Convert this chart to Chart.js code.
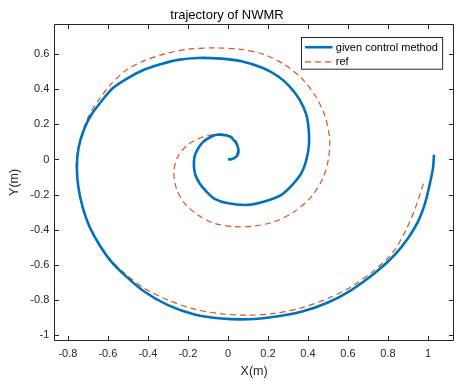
<!DOCTYPE html>
<html><head><meta charset="utf-8">
<script src="https://cdn.jsdelivr.net/npm/chart.js@4/dist/chart.umd.min.js"></script>
<style>html,body{margin:0;padding:0;background:#fff}canvas{display:block}</style>
</head><body>
<canvas id="c" width="457" height="381"></canvas>
<script>
const chartTitle = 'trajectory of NWMR';
const xLabel = 'X(m)';
const yLabel = 'Y(m)';
const seriesNames = ['given control method', 'ref'];
const xTicks = [-0.8, -0.6, -0.4, -0.2, 0, 0.2, 0.4, 0.6, 0.8, 1];
const yTicks = [-1, -0.8, -0.6, -0.4, -0.2, 0, 0.2, 0.4, 0.6];
const xRange = [-0.868, 1.13];
const yRange = [-1.03, 0.77];

const actualX = [0, 0.025, 0.047, 0.053, 0.047, 0.033, 0.008, -0.025, -0.058, -0.092, -0.125, -0.150, -0.167, -0.170, -0.163, -0.142, -0.108, -0.067, 0, 0.100, 0.183, 0.267, 0.325, 0.367, 0.392, 0.405, 0.403, 0.392, 0.358, 0.308, 0.250, 0.175, 0.067, -0.033, -0.150, -0.250, -0.333, -0.417, -0.500, -0.575, -0.633, -0.683, -0.720, -0.747, -0.755, -0.747, -0.725, -0.692, -0.642, -0.583, -0.508, -0.417, -0.300, -0.167, -0.033, 0.100, 0.233, 0.367, 0.500, 0.617, 0.733, 0.833, 0.900, 0.950, 0.983, 1.008, 1.025, 1.030];
const actualY = [0, 0.004, 0.023, 0.049, 0.080, 0.106, 0.131, 0.140, 0.140, 0.125, 0.099, 0.061, 0.017, -0.040, -0.087, -0.135, -0.182, -0.224, -0.249, -0.258, -0.239, -0.201, -0.140, -0.078, -0.002, 0.084, 0.178, 0.254, 0.340, 0.416, 0.473, 0.520, 0.558, 0.573, 0.577, 0.566, 0.543, 0.511, 0.463, 0.406, 0.330, 0.254, 0.169, 0.065, -0.049, -0.163, -0.277, -0.382, -0.486, -0.581, -0.666, -0.752, -0.828, -0.881, -0.904, -0.908, -0.894, -0.866, -0.813, -0.742, -0.647, -0.543, -0.448, -0.353, -0.258, -0.144, -0.049, 0.027];

const refX = [0.042, 0.050, 0.042, 0.017, -0.050, -0.133, -0.200, -0.250, -0.270, -0.258, -0.217, -0.150, -0.067, 0.033, 0.133, 0.233, 0.333, 0.417, 0.475, 0.503, 0.508, 0.483, 0.433, 0.367, 0.283, 0.183, 0.067, -0.067, -0.200, -0.317, -0.417, -0.512, -0.587, -0.645, -0.697, -0.733, -0.757, -0.755, -0.733, -0.700, -0.650, -0.592, -0.517, -0.417, -0.300, -0.167, -0.033, 0.100, 0.233, 0.367, 0.500, 0.617, 0.728, 0.823, 0.888, 0.937, 0.982];
const refY = [0.023, 0.065, 0.103, 0.131, 0.144, 0.125, 0.084, 0.017, -0.068, -0.163, -0.249, -0.315, -0.363, -0.382, -0.378, -0.353, -0.296, -0.211, -0.106, 0.008, 0.122, 0.254, 0.368, 0.463, 0.539, 0.596, 0.625, 0.634, 0.627, 0.600, 0.562, 0.505, 0.425, 0.340, 0.245, 0.131, 0.008, -0.106, -0.239, -0.353, -0.467, -0.562, -0.647, -0.733, -0.799, -0.851, -0.877, -0.885, -0.875, -0.843, -0.790, -0.723, -0.633, -0.530, -0.405, -0.275, -0.120];

const axisColor = '#262626';
const FONT = '"Liberation Sans", Arial, Helvetica, sans-serif';
Chart.defaults.font.family = FONT;
Chart.defaults.color = axisColor;

const toPts = (xs, ys) => xs.map((x, i) => ({x: x, y: ys[i]}));
const fmt = v => String(+Number(v).toFixed(2));

const framePlugin = {
  id: 'frame',
  afterDraw(chart) {
    const ctx = chart.ctx, a = chart.chartArea;
    const xs = chart.scales.x, ys = chart.scales.y;
    ctx.save();
    ctx.strokeStyle = axisColor;
    ctx.lineWidth = 1;
    const L = Math.round(a.left) + 0.5, R = Math.round(a.right) - 0.5;
    const T = Math.round(a.top) + 0.5, B = Math.round(a.bottom) - 0.5;
    ctx.beginPath();
    ctx.rect(L, T, R - L, B - T);
    const tl = 4.5;
    xTicks.forEach(v => {
      const p = Math.round(xs.getPixelForValue(v)) + 0.5;
      ctx.moveTo(p, B); ctx.lineTo(p, B - tl);
      ctx.moveTo(p, T); ctx.lineTo(p, T + tl);
    });
    yTicks.forEach(v => {
      const p = Math.round(ys.getPixelForValue(v)) + 0.5;
      ctx.moveTo(L, p); ctx.lineTo(L + tl, p);
      ctx.moveTo(R, p); ctx.lineTo(R - tl, p);
    });
    ctx.stroke();

    // legend
    ctx.font = '11px ' + FONT;
    const names = chart.data.datasets.map(d => d.label);
    const tw = Math.max(...names.map(n => ctx.measureText(n).width));
    const w = 3.6 + 27.4 + 3.3 + tw + 4.7;
    const h = 31.7;
    const bx = Math.round(a.right - 12.3 - w) + 0.5;
    const by = Math.round(a.top + 13) + 0.5;
    ctx.fillStyle = '#fff';
    ctx.fillRect(bx, by, w, h);
    ctx.strokeStyle = axisColor;
    ctx.lineWidth = 1;
    ctx.strokeRect(bx, by, w, h);
    chart.data.datasets.forEach((d, i) => {
      const yy = by + 9.7 + i * 14.7;
      ctx.beginPath();
      ctx.strokeStyle = d.borderColor;
      ctx.lineWidth = d.borderWidth;
      ctx.setLineDash(d.borderDash || []);
      ctx.moveTo(bx + 3.6, yy);
      ctx.lineTo(bx + 31, yy);
      ctx.stroke();
      ctx.setLineDash([]);
      ctx.fillStyle = '#000';
      ctx.textBaseline = 'middle';
      ctx.textAlign = 'left';
      ctx.fillText(d.label, bx + 34.3, yy + 0.5);
    });
    ctx.restore();
  }
};

new Chart(document.getElementById('c'), {
  type: 'scatter',
  data: {
    datasets: [
      {label: seriesNames[0], data: toPts(actualX, actualY), showLine: true, pointRadius: 0,
       borderColor: '#0072BD', backgroundColor: '#0072BD', borderWidth: 2.6, tension: 0.3, fill: false},
      {label: seriesNames[1], data: toPts(refX, refY), showLine: true, pointRadius: 0,
       borderColor: '#D95319', backgroundColor: '#D95319', borderWidth: 1.2, borderDash: [6, 4], tension: 0.3, fill: false}
    ]
  },
  options: {
    responsive: false,
    animation: false,
    devicePixelRatio: 1,
    layout: {padding: {top: 0, right: 3, left: 0, bottom: 0}},
    plugins: {
      legend: {display: false},
      tooltip: {enabled: false},
      title: {display: true, text: chartTitle, color: '#000',
              font: {size: 13, weight: 'normal'}, padding: {top: 7.2, bottom: 1.2}}
    },
    scales: {
      x: {
        type: 'linear', min: xRange[0], max: xRange[1],
        grid: {display: false, drawTicks: false},
        border: {display: false},
        afterBuildTicks: s => { s.ticks = xTicks.map(v => ({value: v})); },
        afterFit: s => { s.height = 40.3; },
        ticks: {padding: 7, font: {size: 11}, color: axisColor, maxRotation: 0, autoSkip: false, callback: v => fmt(v)},
        title: {display: true, text: xLabel, color: axisColor, font: {size: 12.5}, padding: {top: 0, bottom: 1.8}}
      },
      y: {
        type: 'linear', min: yRange[0], max: yRange[1],
        grid: {display: false, drawTicks: false},
        border: {display: false},
        afterBuildTicks: s => { s.ticks = yTicks.map(v => ({value: v})); },
        afterFit: s => { s.width = 54.3; },
        ticks: {padding: 5, font: {size: 11}, color: axisColor, autoSkip: false, callback: v => fmt(v)},
        title: {display: true, text: yLabel, color: axisColor, font: {size: 12.5}, padding: {top: 7.5, bottom: 0}}
      }
    }
  },
  plugins: [framePlugin]
});
</script>
</body></html>
